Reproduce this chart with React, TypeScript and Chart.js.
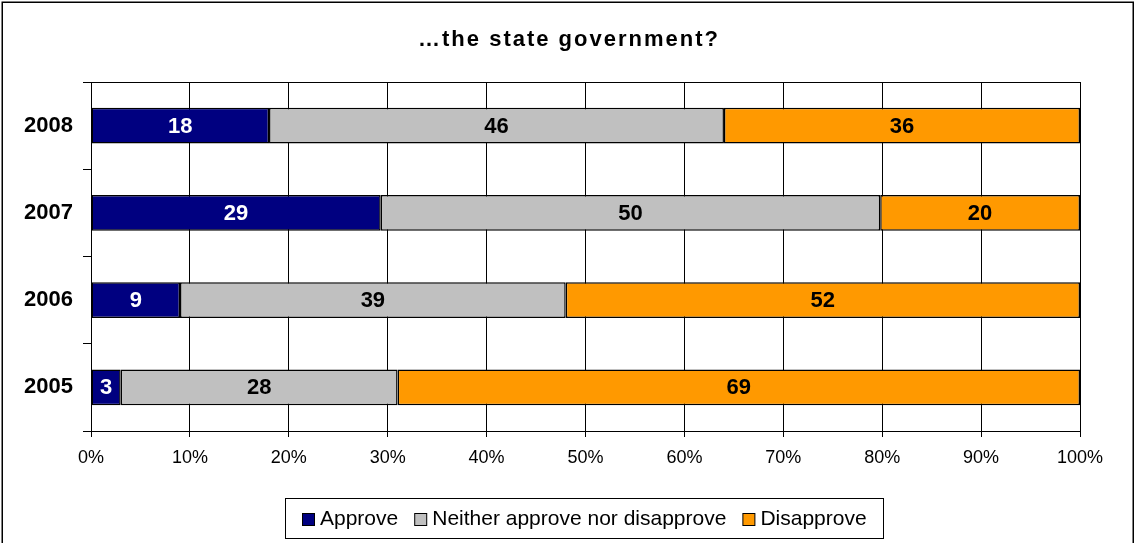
import React, { useEffect, useRef } from 'react';
import { Chart, registerables } from 'chart.js';

Chart.register(...registerables);

const FONT = "'Liberation Sans', Arial, Helvetica, sans-serif";

const chartTitle = '…the state government?';
const categories = ['2008', '2007', '2006', '2005'];
const approve = [18, 29, 9, 3];
const neither = [46, 50, 39, 28];
const disapprove = [36, 20, 52, 69];
const seriesLabels = ['Approve', 'Neither approve nor disapprove', 'Disapprove'];
const seriesColors = ['#000080', '#C0C0C0', '#FF9900'];
const valueLabelColors = ['#FFFFFF', '#000000', '#000000'];

const rawSeries = [approve, neither, disapprove];
const totals = categories.map((_, i) => approve[i] + neither[i] + disapprove[i]);
const pctSeries = rawSeries.map((s) => s.map((v, i) => (v / totals[i]) * 100));

const bgPlugin = {
  id: 'bgFrame',
  beforeDraw(chart: any) {
    const { ctx, width, height } = chart;
    ctx.save();
    ctx.fillStyle = '#FFFFFF';
    ctx.fillRect(0, 0, width, height);
    ctx.strokeStyle = '#000000';
    ctx.lineWidth = 1.5;
    ctx.strokeRect(2.25, 2.25, width - 5, height + 20);
    ctx.restore();
  },
};

const topLinePlugin = {
  id: 'topLine',
  beforeDatasetsDraw(chart: any) {
    const { ctx, chartArea } = chart;
    ctx.save();
    ctx.strokeStyle = '#000000';
    ctx.lineWidth = 1;
    ctx.beginPath();
    const y = Math.round(chartArea.top) + 0.5;
    ctx.moveTo(chartArea.left, y);
    ctx.lineTo(chartArea.right, y);
    ctx.stroke();
    ctx.restore();
  },
};

const valueLabelPlugin = {
  id: 'valueLabels',
  afterDatasetsDraw(chart: any) {
    const { ctx } = chart;
    ctx.save();
    ctx.font = `bold 22px ${FONT}`;
    ctx.textAlign = 'center';
    ctx.textBaseline = 'middle';
    chart.data.datasets.forEach((ds: any, i: number) => {
      const meta = chart.getDatasetMeta(i);
      meta.data.forEach((bar: any, j: number) => {
        const p = bar.getProps(['x', 'y', 'base'], true);
        const cx = (p.x + p.base) / 2;
        ctx.fillStyle = valueLabelColors[i];
        ctx.fillText(String(rawSeries[i][j]), cx, p.y + 1);
      });
    });
    ctx.restore();
  },
};

const titlePlugin = {
  id: 'customTitle',
  afterDraw(chart: any) {
    const { ctx, width } = chart;
    ctx.save();
    ctx.font = `bold 22px ${FONT}`;
    (ctx as any).letterSpacing = '2px';
    ctx.fillStyle = '#000000';
    ctx.textAlign = 'center';
    ctx.textBaseline = 'middle';
    ctx.fillText(chartTitle, width / 2 + 1, 40);
    (ctx as any).letterSpacing = '0px';
    ctx.restore();
  },
};

const legendPlugin = {
  id: 'customLegend',
  afterDraw(chart: any) {
    const { ctx } = chart;
    const boxL = 285.5;
    const boxR = 883.5;
    const boxT = 498.5;
    const boxB = 538.5;
    ctx.save();
    ctx.strokeStyle = '#000000';
    ctx.lineWidth = 1;
    ctx.strokeRect(boxL, boxT, boxR - boxL, boxB - boxT);
    ctx.font = `21px ${FONT}`;
    const sq = 12;
    const gapText = 6;
    const gapItem = 16;
    const widths = seriesLabels.map((t) => ctx.measureText(t).width);
    const total = widths.reduce((a, b) => a + b, 0) + seriesLabels.length * (sq + gapText) + (seriesLabels.length - 1) * gapItem;
    let x = Math.round((boxL + boxR) / 2 - total / 2);
    const cy = 519;
    ctx.textBaseline = 'middle';
    ctx.textAlign = 'left';
    seriesLabels.forEach((t, i) => {
      ctx.fillStyle = seriesColors[i];
      ctx.fillRect(x + 0.5, cy - sq / 2 + 0.5, sq, sq);
      ctx.strokeStyle = '#000000';
      ctx.strokeRect(x + 0.5, cy - sq / 2 + 0.5, sq, sq);
      ctx.fillStyle = '#000000';
      ctx.fillText(t, x + sq + gapText, cy);
      x += sq + gapText + widths[i] + gapItem;
    });
    ctx.restore();
  },
};

export default function App() {
  const canvasRef = useRef<HTMLCanvasElement | null>(null);

  useEffect(() => {
    if (!canvasRef.current) return;
    const chart = new Chart(canvasRef.current, {
      type: 'bar',
      data: {
        labels: categories,
        datasets: seriesLabels.map((label, i) => ({
          label,
          data: pctSeries[i],
          backgroundColor: seriesColors[i],
          borderColor: '#000000',
          borderWidth: 1.5,
          borderSkipped: false,
          barPercentage: 0.41,
          categoryPercentage: 1,
        })),
      },
      options: {
        indexAxis: 'y',
        responsive: false,
        animation: false,
        events: [],
        layout: { padding: { top: 82, right: 56, left: 0, bottom: 0 } },
        plugins: {
          legend: { display: false },
          title: { display: false },
          tooltip: { enabled: false },
        },
        scales: {
          x: {
            stacked: true,
            min: 0,
            max: 100,
            ticks: {
              stepSize: 10,
              callback: (v: any) => `${v}%`,
              color: '#000000',
              font: { family: FONT, size: 18 },
              padding: 10,
              maxRotation: 0,
            },
            grid: { color: '#000000', lineWidth: 1, tickLength: 6, drawTicks: true },
            border: { color: '#000000', width: 1 },
            afterFit: (s: any) => {
              s.height = 112;
            },
          },
          y: {
            stacked: true,
            ticks: {
              color: '#000000',
              font: { family: FONT, size: 22, weight: 'bold' },
              padding: 10,
            },
            grid: {
              offset: true,
              drawOnChartArea: false,
              drawTicks: true,
              tickLength: 8,
              color: '#000000',
            },
            border: { color: '#000000', width: 1 },
            afterFit: (s: any) => {
              s.width = 91;
            },
          },
        },
      },
      plugins: [bgPlugin, topLinePlugin, valueLabelPlugin, titlePlugin, legendPlugin],
    });
    return () => chart.destroy();
  }, []);

  return (
    <div style={{ position: 'absolute', left: 0, top: 0, width: 1136, height: 543, background: '#fff' }}>
      <canvas ref={canvasRef} width={1136} height={543} style={{ display: 'block' }} />
    </div>
  );
}
